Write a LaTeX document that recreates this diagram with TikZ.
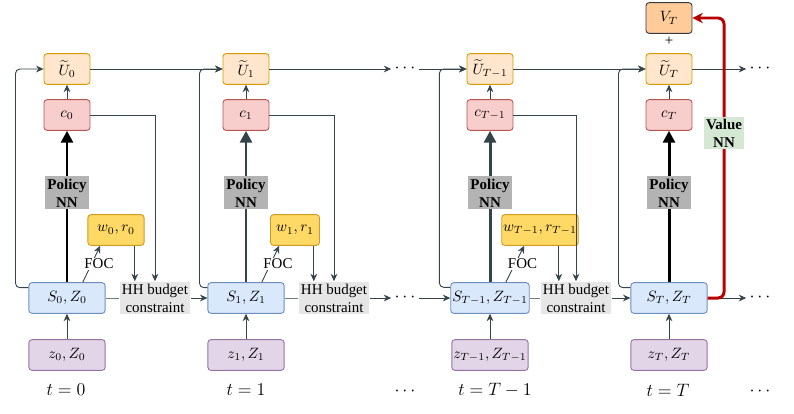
\documentclass[tikz,border=0pt]{standalone}
\usepackage[no-math]{fontspec}
\setmainfont{Liberation Serif}
\usetikzlibrary{arrows.meta}
\definecolor{lnc}{HTML}{33454B}
\definecolor{ufill}{HTML}{FFE6CC}
\definecolor{udraw}{HTML}{D79B00}
\definecolor{cfill}{HTML}{F8CECC}
\definecolor{cdraw}{HTML}{B85450}
\definecolor{wfill}{HTML}{FFD966}
\definecolor{wdraw}{HTML}{D09A20}
\definecolor{sfill}{HTML}{DAE8FC}
\definecolor{sdraw}{HTML}{6C8EBF}
\definecolor{zfill}{HTML}{E1D5E7}
\definecolor{zdraw}{HTML}{9673A6}
\definecolor{vfill}{HTML}{FFCC99}
\definecolor{vdraw}{HTML}{36393D}
\definecolor{nnfill}{HTML}{B3B3B3}
\definecolor{hhfill}{HTML}{E6E6E6}
\definecolor{valfill}{HTML}{D5E8D4}
\definecolor{valred}{HTML}{B80000}
\begin{document}
\begin{tikzpicture}[x=0.0235cm,y=-0.0235cm,>=Stealth,
   box/.style={draw,rounded corners=2pt,line width=0.6pt,minimum height=0.72cm,inner sep=1pt},
   ubox/.style={box,fill=ufill,draw=udraw,minimum width=1.08cm},
   cbox/.style={box,fill=cfill,draw=cdraw,minimum width=1.08cm},
   vbox/.style={box,fill=vfill,draw=vdraw,minimum width=1.08cm},
   wbox/.style={box,fill=wfill,draw=wdraw,minimum width=1.15cm},
   sbox/.style={box,fill=sfill,draw=sdraw,minimum width=1.79cm},
   zbox/.style={box,fill=zfill,draw=zdraw,minimum width=1.79cm},
   policy/.style={fill=nnfill,text=black,font=\bfseries,align=center,inner sep=1.5pt},
   valnn/.style={fill=valfill,text=black,font=\bfseries,align=center,inner sep=1.5pt},
   hh/.style={fill=hhfill,align=center,inner sep=1.5pt},
   foc/.style={fill=white,inner sep=0.5pt,xshift=5pt},
   conn/.style={draw=lnc,line width=0.6pt,-{Stealth[length=5pt,width=4.5pt]}},
   link/.style={draw=lnc!70,line width=0.6pt},
   pol/.style={line width=2pt,-{Triangle[length=8pt,width=8pt]}},
   valarr/.style={draw=valred,line width=2pt,rounded corners=4pt,-{Stealth[length=7pt,width=7pt]}},
   tlab/.style={font=\fontsize{13}{15}\selectfont},
   dots/.style={font=\fontsize{13}{15}\selectfont,inner sep=2pt}]
   \useasboundingbox (0,0) rectangle (794,413);

   % t = 0
   \node[ubox] (U0) at (67,69) {$\widetilde{U}_0$};
   \node[cbox] (c0) at (67,115) {$c_0$};
   \node[wbox,minimum width=1.32cm] (w0) at (116,230) {$w_0, r_0$};
   \node[sbox] (S0) at (67,298) {$S_0, Z_0$};
   \node[zbox] (z0) at (67,355) {$z_0, Z_0$};
   \node[hh] (H0) at (155,298) {HH budget\\constraint};
   \node[tlab] (t0) at (66,390) {$t=0$};

   \draw[conn] (z0) -- (S0);
   \draw[pol] (S0) -- node[policy,pos=0.59]{Policy\\NN} (c0);
   \draw[conn] (c0) -- (U0);
   \draw[conn] (S0.45) -- node[foc]{FOC} (w0.225);
   \draw[conn] (w0.-40) -- (w0.-40 |- H0.north);
   \draw[conn] (c0.east) -| (H0.north);
   \draw[link] (S0) -- (H0);
   \draw[conn,rounded corners=3pt] (S0.165) -- ++(-13,0) |- (U0.west);

   % t = 1
   \node[ubox] (U1) at (246,69) {$\widetilde{U}_1$};
   \node[cbox] (c1) at (246,115) {$c_1$};
   \node[wbox] (w1) at (295,230) {$w_1, r_1$};
   \node[sbox] (S1) at (246,298) {$S_1, Z_1$};
   \node[zbox] (z1) at (246,355) {$z_1, Z_1$};
   \node[hh] (H1) at (334,298) {HH budget\\constraint};
   \node[tlab] (t1) at (246,390) {$t=1$};

   \draw[conn] (U0) -- (U1);
   \draw[conn] (H0) -- (S1);
   \draw[conn] (z1) -- (S1);
   \draw[pol,draw=lnc] (S1) -- node[policy,pos=0.59]{Policy\\NN} (c1);
   \draw[conn] (c1) -- (U1);
   \draw[conn] (S1.45) -- node[foc]{FOC} (w1.225);
   \draw[conn] (w1.-40) -- (w1.-40 |- H1.north);
   \draw[conn] (c1.east) -| (H1.north);
   \draw[link] (S1) -- (H1);
   \draw[conn,rounded corners=3pt] (S1.165) -- ++(-8,0) |- (U1.west);

   % 途中
   \node[dots] (dU) at (405,69) {$\cdots$};
   \node[dots] (dS) at (405,298) {$\cdots$};
   \node[dots] (dt) at (405,392) {$\cdots$};
   \draw[conn] (U1) -- (dU);
   \draw[conn] (H1) -- (dS);

   % t = T-1
   \node[ubox] (UTm) at (490,69) {$\widetilde{U}_{T-1}$};
   \node[cbox] (cTm) at (490,115) {$c_{T-1}$};
   \node[wbox] (wTm) at (540,230) {$w_{T-1}, r_{T-1}$};
   \node[sbox] (STm) at (490,298) {$S_{T-1}, Z_{T-1}$};
   \node[zbox] (zTm) at (490,355) {$z_{T-1}, Z_{T-1}$};
   \node[hh] (HTm) at (576,298) {HH budget\\constraint};
   \node[tlab] (tTm) at (495,390) {$t=T-1$};

   \draw[conn] (dU) -- (UTm);
   \draw[conn] (dS) -- (STm);
   \draw[conn] (zTm) -- (STm);
   \draw[pol,draw=lnc] (STm) -- node[policy,pos=0.59]{Policy\\NN} (cTm);
   \draw[conn] (cTm) -- (UTm);
   \draw[conn] (STm.45) -- node[foc]{FOC} (wTm.225);
   \draw[conn] (wTm.-40) -- (wTm.-40 |- HTm.north);
   \draw[conn] (cTm.east) -| (HTm.north);
   \draw[link] (STm) -- (HTm);
   \draw[conn,rounded corners=3pt] (STm.165) -- ++(-11,0) |- (UTm.west);

   % t = T
   \node[vbox] (VT) at (669,18) {$V_T$};
   \node (plus) at (669,41) {+};
   \node[ubox] (UT) at (669,69) {$\widetilde{U}_T$};
   \node[cbox] (cT) at (669,115) {$c_T$};
   \node[sbox] (ST) at (669,298) {$S_T, Z_T$};
   \node[zbox] (zT) at (669,355) {$z_T, Z_T$};
   \node[tlab] (tT) at (668,390) {$t=T$};
   \node[dots] (dUT) at (760,69) {$\cdots$};
   \node[dots] (dST) at (760,298) {$\cdots$};
   \node[dots] (dtT) at (760,392) {$\cdots$};

   \draw[conn] (UTm) -- (UT);
   \draw[conn] (HTm) -- (ST);
   \draw[conn] (zT) -- (ST);
   \draw[pol] (ST) -- node[policy,pos=0.59]{Policy\\NN} (cT);
   \draw[conn] (cT) -- (UT);
   \draw[conn,rounded corners=3pt] (ST.165) -- ++(-12,0) |- (UT.west);
   \draw[conn] (UT) -- (dUT);
   \draw[conn] (ST) -- (dST);

   % 価値関数
   \coordinate (vb) at (724,18);
   \draw[valarr] (ST.east) -| (vb) -- (VT.east);
   \node[valnn] (vnn) at (724,133) {Value\\NN};

\end{tikzpicture}
\end{document}
